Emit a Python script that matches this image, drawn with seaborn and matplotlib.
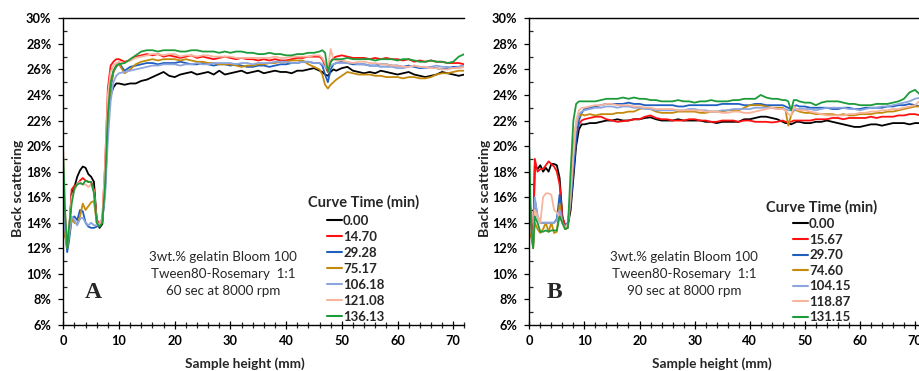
import matplotlib
matplotlib.use("Agg")
import matplotlib.pyplot as plt
import pandas as pd
import seaborn as sns
from matplotlib.ticker import MultipleLocator

sns.set_theme(style="ticks")
plt.rcParams["font.family"] = ["Lato", "DejaVu Sans"]

# ---------------- data ----------------
height_mm = [0, 0.3, 0.7, 1, 1.5, 2, 2.5, 3, 3.5, 4, 4.5, 5, 5.5, 6, 6.5, 7, 7.5, 8, 8.5, 9, 9.5,
             10, 11, 12, 13, 14, 15, 16, 17, 18, 19, 20, 21, 22, 23, 24, 25, 26, 27, 28, 29,
             30, 31, 32, 33, 34, 35, 36, 37, 38, 39, 40, 41, 42, 43, 44, 45, 46,
             46.5, 47, 47.5, 48, 48.5,
             49, 50, 51, 52, 53, 54, 55, 56, 57, 58, 59, 60, 61, 62, 63, 64, 65, 66, 67, 68,
             69, 70, 71, 72]

labels_A = ["0.00", "14.70", "29.28", "75.17", "106.18", "121.08", "136.13"]
labels_B = ["0.00", "15.67", "29.70", "74.60", "104.15", "118.87", "131.15"]
curve_colors = ["#000000", "#ff1010", "#1f5fc0", "#c48a0c", "#8ea6de", "#f8b49c", "#1d9b3a"]

# Panel A (60 sec at 8000 rpm)
A_0 = [15.5, 14.0, 12.5, 13.2, 16.3, 16.8, 17.6, 18.1, 18.4, 18.3, 17.8, 17.6, 17.2, 14.2, 13.6, 13.9, 17.0, 22.0, 24.0, 24.6, 24.9,
       24.9, 24.8, 24.9, 24.9, 25.1, 25.2, 25.4, 25.6, 25.8, 25.5, 25.4, 25.6, 25.7, 25.8, 25.6, 25.7, 25.8, 25.6, 25.9, 25.6,
       25.7, 25.8, 25.9, 25.7, 25.8, 25.9, 25.7, 25.8, 25.9, 25.8, 25.8, 25.7, 25.9, 25.9, 26.0, 26.1, 25.9,
       25.8, 25.6, 25.5, 25.8, 26.0,
       25.9, 26.1, 26.2, 25.9, 25.8, 25.7, 25.8, 25.7, 25.9, 25.8, 25.7, 25.6, 25.7, 25.8, 25.6, 25.5, 25.4, 25.5, 25.6, 25.8,
       25.7, 25.6, 25.5, 25.6]
A_1 = [15.5, 14.5, 12.2, 12.8, 16.6, 16.9, 17.0, 17.3, 17.5, 17.3, 17.2, 17.2, 16.6, 14.3, 13.8, 14.3, 18.5, 24.5, 26.3, 26.6, 26.8,
       26.8, 26.6, 26.7, 27.0, 27.1, 27.2, 27.1, 27.2, 27.0, 27.1, 27.0, 26.9, 27.0, 27.1, 26.9, 27.0, 26.9, 26.8, 26.9, 27.0,
       26.9, 26.8, 26.9, 26.8, 26.8, 26.7, 26.8, 26.7, 26.8, 26.7, 26.7, 26.8, 26.9, 26.9, 27.0, 27.0, 27.0,
       26.8, 26.3, 25.8, 26.6, 26.9,
       27.0, 27.1, 27.0, 26.9, 26.9, 26.9, 26.8, 26.9, 26.8, 26.9, 26.8, 26.8, 26.7, 26.8, 26.6, 26.7, 26.6, 26.7, 26.6, 26.6,
       26.5, 26.5, 26.5, 26.4]
A_2 = [15.3, 13.5, 11.7, 12.5, 14.2, 14.5, 14.2, 15.0, 14.9, 14.0, 13.7, 13.6, 13.6, 13.7, 13.8, 14.2, 16.5, 21.5, 24.5, 25.8, 26.2,
       26.5, 25.9, 26.2, 26.3, 26.4, 26.5, 26.5, 26.4, 26.5, 26.5, 26.5, 26.6, 26.5, 26.4, 26.4, 26.5, 26.4, 26.3, 26.4, 26.4,
       26.3, 26.4, 26.3, 26.2, 26.2, 26.3, 26.3, 26.2, 26.3, 26.4, 26.4, 26.5, 26.5, 26.6, 26.6, 26.5, 26.5,
       26.3, 25.6, 25.0, 26.0, 26.4,
       26.5, 26.6, 26.5, 26.4, 26.4, 26.4, 26.3, 26.3, 26.4, 26.4, 26.3, 26.3, 26.2, 26.3, 26.2, 26.1, 26.1, 26.2, 26.1, 26.0,
       26.1, 26.2, 26.2, 26.3]
A_3 = [14.5, 13.0, 12.0, 13.0, 14.3, 14.0, 13.9, 14.5, 15.5, 15.0, 15.3, 15.6, 15.7, 14.0, 13.8, 14.2, 17.0, 22.0, 24.8, 25.8, 26.3,
       26.4, 25.7, 26.0, 26.4, 26.6, 26.7, 26.8, 26.7, 26.8, 26.8, 26.8, 26.7, 26.8, 26.7, 26.6, 26.6, 26.5, 26.5, 26.4, 26.4,
       26.4, 26.3, 26.2, 26.3, 26.3, 26.4, 26.4, 26.5, 26.5, 26.6, 26.6, 26.7, 26.7, 26.7, 26.4, 26.2, 26.0,
       25.6, 24.8, 24.5, 24.8, 25.0,
       25.2, 25.5, 25.8, 25.7, 25.6, 25.6, 25.6, 25.5, 25.5, 25.4, 25.4, 25.4, 25.3, 25.4, 25.4, 25.3, 25.3, 25.4, 25.6, 25.7,
       25.7, 25.8, 25.9, 25.9]
A_4 = [15.0, 13.5, 12.2, 13.0, 14.5, 14.2, 13.8, 14.3, 14.4, 14.0, 13.8, 14.0, 13.8, 13.8, 14.0, 14.3, 16.0, 20.5, 23.5, 25.0, 25.5,
       25.7, 25.8, 25.9, 26.0, 26.1, 26.2, 26.3, 26.3, 26.4, 26.4, 26.4, 26.3, 26.4, 26.4, 26.5, 26.4, 26.4, 26.5, 26.5, 26.5,
       26.5, 26.4, 26.5, 26.5, 26.4, 26.5, 26.5, 26.5, 26.6, 26.6, 26.6, 26.5, 26.5, 26.6, 26.6, 26.5, 26.5,
       26.4, 26.2, 26.1, 26.3, 26.4,
       26.5, 26.5, 26.5, 26.5, 26.4, 26.4, 26.3, 26.3, 26.2, 26.2, 26.2, 26.1, 26.1, 26.2, 26.3, 26.2, 26.1, 26.2, 26.3, 26.2,
       26.2, 26.1, 26.2, 26.3]
A_5 = [19.6, 15.0, 12.5, 13.5, 16.0, 16.5, 17.0, 17.2, 17.0, 17.0, 16.8, 17.0, 16.5, 14.0, 13.8, 14.3, 18.5, 24.0, 25.8, 26.3, 26.5,
       26.6, 26.5, 26.7, 26.9, 27.0, 27.1, 27.2, 27.2, 27.1, 27.2, 27.2, 27.0, 27.1, 27.1, 27.0, 27.1, 27.1, 27.0, 27.0, 27.0,
       27.0, 26.9, 26.9, 26.9, 26.9, 26.9, 26.9, 26.9, 27.0, 26.9, 26.9, 27.0, 27.0, 27.0, 27.0, 27.1, 27.1,
       26.9, 26.5, 26.0, 27.6, 26.8,
       26.7, 26.7, 26.6, 26.5, 26.6, 26.6, 26.5, 26.5, 26.4, 26.4, 26.3, 26.3, 26.2, 26.2, 26.3, 26.2, 26.2, 26.1, 26.1, 26.0,
       26.0, 26.1, 26.1, 26.2]
A_6 = [19.1, 15.0, 12.0, 13.5, 15.5, 16.7, 17.0, 17.1, 17.0, 17.3, 17.2, 17.2, 16.3, 14.0, 13.7, 14.0, 17.0, 22.5, 25.0, 25.9, 26.3,
       26.4, 26.5, 26.8, 27.1, 27.4, 27.5, 27.5, 27.4, 27.5, 27.5, 27.5, 27.4, 27.4, 27.5, 27.5, 27.4, 27.4, 27.4, 27.3, 27.4,
       27.3, 27.4, 27.4, 27.3, 27.3, 27.2, 27.2, 27.3, 27.2, 27.2, 27.1, 27.1, 27.2, 27.2, 27.3, 27.3, 27.4,
       27.5, 27.3, 25.8, 26.6, 26.8,
       26.8, 26.8, 26.9, 26.8, 26.8, 26.8, 26.8, 26.7, 26.8, 26.8, 26.8, 26.7, 26.8, 26.8, 26.7, 26.6, 26.6, 26.7, 26.6, 26.6,
       26.5, 26.6, 27.0, 27.2]

# Panel B (90 sec at 8000 rpm)
B_0 = [16.5, 14.0, 12.5, 18.5, 18.2, 18.5, 18.0, 18.3, 18.0, 18.6, 18.6, 18.5, 17.5, 14.5, 13.6, 13.8, 15.0, 17.5, 20.0, 21.3, 21.7,
       21.7, 21.8, 21.8, 21.9, 22.0, 22.0, 22.1, 22.0, 22.0, 22.1, 22.1, 22.2, 22.25, 22.1, 22.0, 22.0, 22.0, 22.1, 22.0, 22.0,
       22.0, 22.0, 21.9, 21.9, 21.8, 21.9, 21.9, 21.9, 21.9, 22.1, 22.1, 22.2, 22.3, 22.3, 22.2, 22.1, 21.9,
       21.8, 21.8, 21.7, 21.8, 21.9,
       21.9, 21.8, 21.8, 21.9, 21.9, 22.0, 21.9, 21.8, 21.7, 21.6, 21.5, 21.5, 21.6, 21.7, 21.7, 21.6, 21.7, 21.8, 21.8, 21.8,
       21.7, 21.8, 21.8, 21.8]
B_1 = [17.0, 14.0, 12.5, 19.0, 18.0, 18.2, 18.2, 18.5, 18.8, 18.6, 18.4, 18.0, 17.0, 14.5, 13.8, 14.0, 15.5, 18.5, 20.8, 21.7, 22.0,
       22.1, 22.2, 22.3, 22.3, 22.1, 22.0, 21.9, 21.95, 22.0, 22.1, 22.1, 22.3, 22.4, 22.2, 22.1, 22.1, 22.0, 22.0, 22.0, 22.1,
       22.1, 22.0, 22.0, 21.9, 21.9, 22.0, 22.0, 22.0, 21.9, 22.0, 22.0, 21.9, 21.9, 21.9, 21.85, 21.9, 22.0,
       21.9, 21.9, 21.9, 22.0, 22.0,
       22.0, 22.0, 22.0, 22.1, 22.1, 22.1, 22.2, 22.2, 22.1, 22.2, 22.2, 22.2, 22.2, 22.3, 22.2, 22.3, 22.3, 22.3, 22.4, 22.4,
       22.5, 22.5, 22.4, 22.4]
B_2 = [16.0, 13.5, 12.2, 15.8, 14.5, 14.0, 14.0, 14.0, 14.0, 14.0, 14.0, 14.3, 16.2, 14.0, 13.8, 14.0, 15.5, 18.0, 20.5, 22.0, 22.6,
       22.9, 23.0, 23.1, 23.2, 23.3, 23.3, 23.3, 23.3, 23.4, 23.3, 23.3, 23.2, 23.2, 23.2, 23.2, 23.2, 23.2, 23.1, 23.1, 23.2,
       23.2, 23.2, 23.2, 23.2, 23.2, 23.3, 23.3, 23.3, 23.3, 23.2, 23.2, 23.3, 23.3, 23.2, 23.2, 23.2, 23.2,
       23.1, 23.0, 22.9, 23.1, 23.2,
       23.1, 23.1, 23.0, 23.0, 23.0, 23.0, 22.9, 22.9, 23.0, 23.0, 22.9, 22.9, 23.0, 23.0, 23.0, 23.0, 23.1, 23.1, 23.2, 23.2,
       23.3, 23.2, 23.1, 23.0]
B_3 = [15.0, 13.0, 12.0, 14.0, 13.5, 13.2, 13.5, 14.0, 13.3, 14.0, 13.2, 13.3, 15.5, 14.0, 13.5, 13.6, 16.0, 20.0, 21.8, 22.3, 22.5,
       22.4, 22.5, 22.4, 22.5, 22.5, 22.5, 22.6, 22.6, 22.7, 22.7, 22.9, 23.0, 22.9, 22.7, 22.6, 22.6, 22.6, 22.7, 22.7, 22.7,
       22.7, 22.6, 22.6, 22.7, 22.7, 22.7, 22.8, 22.8, 22.8, 23.0, 23.2, 23.2, 23.2, 23.1, 23.0, 23.0, 23.0,
       22.8, 21.6, 22.4, 22.8, 22.8,
       22.7, 22.6, 22.6, 22.5, 22.5, 22.5, 22.5, 22.4, 22.5, 22.4, 22.4, 22.5, 22.5, 22.5, 22.6, 22.6, 22.7, 22.7, 22.8, 22.9,
       23.0, 23.1, 23.1, 23.2]
B_4 = [16.0, 13.5, 12.5, 16.0, 14.5, 14.0, 14.0, 14.0, 14.0, 14.0, 14.0, 14.2, 15.0, 14.0, 13.6, 14.0, 16.0, 19.0, 21.5, 22.5, 22.7,
       22.8, 22.9, 23.0, 23.0, 23.1, 23.1, 23.0, 23.1, 23.1, 23.0, 23.0, 22.9, 22.9, 22.8, 22.8, 22.8, 22.8, 22.8, 22.8, 22.9,
       22.9, 22.8, 22.8, 22.7, 22.7, 22.8, 22.8, 22.9, 22.9, 22.9, 22.9, 23.0, 23.0, 23.0, 23.0, 22.9, 22.9,
       22.9, 22.8, 22.8, 22.8, 22.9,
       22.9, 22.9, 22.9, 22.8, 22.9, 23.0, 23.0, 23.0, 23.0, 22.9, 22.9, 22.8, 22.9, 23.0, 23.0, 23.1, 23.1, 23.2, 23.3, 23.4,
       23.5, 23.7, 23.8, 23.2]
B_5 = [16.5, 13.5, 12.5, 15.0, 14.5, 14.0, 16.0, 16.3, 16.3, 16.2, 15.0, 14.8, 14.5, 14.0, 13.6, 13.9, 16.5, 19.5, 22.0, 22.8, 23.0,
       23.0, 23.1, 23.2, 23.2, 23.3, 23.3, 23.2, 23.2, 23.2, 23.1, 23.1, 23.0, 23.0, 22.9, 22.9, 22.9, 22.9, 22.8, 22.8, 22.8,
       22.8, 22.8, 22.7, 22.7, 22.7, 22.6, 22.6, 22.7, 22.7, 22.6, 22.6, 22.7, 22.8, 22.9, 23.0, 22.9, 22.9,
       22.8, 22.5, 22.4, 23.1, 22.9,
       22.8, 22.8, 22.7, 22.6, 22.5, 22.4, 22.4, 22.4, 22.4, 22.5, 22.5, 22.6, 22.6, 22.7, 22.7, 22.8, 22.8, 22.9, 22.9, 23.0,
       23.1, 23.2, 23.6, 22.8]
B_6 = [19.8, 14.0, 12.0, 14.5, 14.0, 13.3, 13.3, 13.4, 13.3, 13.4, 13.4, 13.4, 14.5, 14.0, 13.5, 13.6, 18.0, 22.0, 23.3, 23.5, 23.5,
       23.5, 23.5, 23.5, 23.6, 23.7, 23.7, 23.7, 23.8, 23.7, 23.8, 23.7, 23.7, 23.6, 23.6, 23.5, 23.5, 23.5, 23.6, 23.5, 23.5,
       23.4, 23.5, 23.5, 23.6, 23.5, 23.5, 23.5, 23.6, 23.6, 23.7, 23.7, 23.7, 24.0, 23.8, 23.7, 23.7, 23.6,
       23.6, 23.5, 22.8, 23.6, 23.6,
       23.5, 23.4, 23.4, 23.2, 23.4, 23.5, 23.5, 23.5, 23.4, 23.3, 23.3, 23.2, 23.2, 23.2, 23.3, 23.3, 23.3, 23.4, 23.5, 23.7,
       24.2, 24.4, 24.0, 24.1]

series_A = [A_0, A_1, A_2, A_3, A_4, A_5, A_6]
series_B = [B_0, B_1, B_2, B_3, B_4, B_5, B_6]

x_ticks = [0, 10, 20, 30, 40, 50, 60, 70]
y_ticks = [6, 8, 10, 12, 14, 16, 18, 20, 22, 24, 26, 28, 30]

notes_A = ["3wt.% gelatin Bloom 100", "Tween80-Rosemary  1:1", "60 sec at 8000 rpm"]
notes_B = ["3wt.% gelatin Bloom 100", "Tween80-Rosemary  1:1", "90 sec at 8000 rpm"]

# ---------------- figure ----------------
W, H = 919, 371
fig = plt.figure(figsize=(W / 100, H / 100), dpi=100)


def fx(px):
    return px / W


def fy(py):
    return 1 - py / H


def make_df(series, labels):
    frames = [pd.DataFrame({"height": height_mm, "bs": vals, "curve": lab})
              for vals, lab in zip(series, labels)]
    return pd.concat(frames, ignore_index=True)


panels = [
    dict(series=series_A, labels=labels_A, notes=notes_A, letter="A",
         x0=63.3, xscale=5.57, ylab_x=18, xlab_x=245, note_x=223, letter_x=93,
         title_x=364, title_y=202, leg_x=327, leg_y=215, leg_sp=0.30),
    dict(series=series_B, labels=labels_B, notes=notes_B, letter="B",
         x0=529.3, xscale=5.51, ylab_x=485, xlab_x=712, note_x=684, letter_x=554,
         title_x=822, title_y=207, leg_x=793, leg_y=218, leg_sp=0.27),
]

y_top, y_bot = 18.3, 325.0

for p in panels:
    left = fx(p["x0"])
    width = 72 * p["xscale"] / W
    ax = fig.add_axes([left, fy(y_bot), width, (y_bot - y_top) / H])
    df = make_df(p["series"], p["labels"])
    sns.lineplot(data=df, x="height", y="bs", hue="curve", hue_order=p["labels"],
                 palette=curve_colors, estimator=None, sort=False, linewidth=1.3,
                 ax=ax, legend=True)
    ax.set_xlim(0, 72)
    ax.set_ylim(6, 30)
    ax.set_xticks(x_ticks, [str(t) for t in x_ticks], fontweight="bold")
    ax.set_yticks(y_ticks, [f"{t}%" for t in y_ticks], fontweight="bold")
    ax.xaxis.set_minor_locator(MultipleLocator(2))
    ax.yaxis.set_minor_locator(MultipleLocator(1))
    ax.tick_params(axis="x", which="major", direction="inout", length=6, width=0.9,
                   pad=4, labelsize=9.2, colors="black")
    ax.tick_params(axis="x", which="minor", direction="inout", length=5, width=0.9)
    ax.tick_params(axis="y", which="major", direction="out", length=3.5, width=0.9,
                   pad=5, labelsize=9.2, colors="black")
    ax.tick_params(axis="y", which="minor", direction="in", length=3, width=0.9)
    ax.set_xlabel("")
    ax.set_ylabel("")
    for s in ["left", "bottom", "top"]:
        ax.spines[s].set_visible(True)
        ax.spines[s].set_color("black")
        ax.spines[s].set_linewidth(1.0)
    ax.spines["right"].set_visible(False)

    handles, labs = ax.get_legend_handles_labels()
    for h in handles:
        h.set_linewidth(1.5)
    ax.legend(handles, labs, loc="upper left",
              bbox_to_anchor=(fx(p["leg_x"]), fy(p["leg_y"])), bbox_transform=fig.transFigure,
              frameon=False, borderpad=0, borderaxespad=0, handlelength=1.1,
              handletextpad=0.12, labelspacing=p["leg_sp"],
              prop={"weight": "bold", "size": 9.5})

    fig.text(fx(p["title_x"]), fy(p["title_y"]), "Curve Time (min)", ha="center", va="center",
             fontsize=10.5, fontweight="bold")
    fig.text(fx(p["ylab_x"]), fy(188), "Back scattering", rotation=90, ha="center", va="center",
             fontsize=10.2, fontweight="bold")
    fig.text(fx(p["xlab_x"]), fy(364), "Sample height (mm)", ha="center", va="center",
             fontsize=9.8, fontweight="bold")
    for i, line in enumerate(p["notes"]):
        fig.text(fx(p["note_x"]), fy(257 + 17 * i), line, ha="center", va="center", fontsize=9.6)
    fig.text(fx(p["letter_x"]), fy(292), p["letter"], ha="center", va="center",
             fontsize=17, fontweight="bold", family=["Liberation Serif", "DejaVu Serif"])

fig.savefig("out.png", dpi=100)
